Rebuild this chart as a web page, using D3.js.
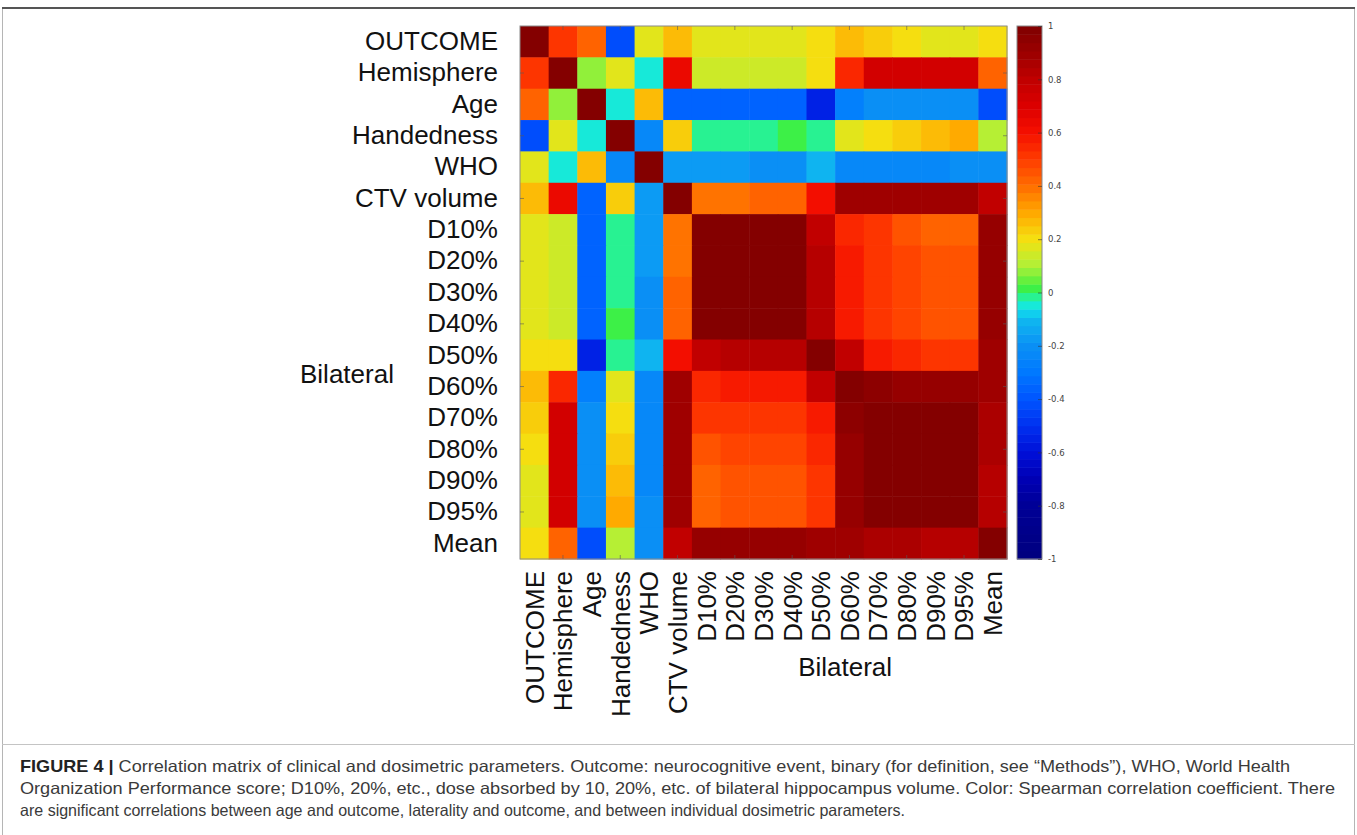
<!DOCTYPE html>
<html>
<head>
<meta charset="utf-8">
<script src="https://cdn.jsdelivr.net/npm/d3@7"></script>
<style>
  html, body { margin: 0; padding: 0; background: #fff; }
  svg { display: block; }
</style>
</head>
<body>
<svg id="chart" width="1357" height="835"></svg>
<script>
// ---------------- data ----------------
const rowLabels = ["OUTCOME","Hemisphere","Age","Handedness","WHO","CTV volume",
  "D10%","D20%","D30%","D40%","D50%","D60%","D70%","D80%","D90%","D95%","Mean"];
const colLabels = rowLabels;
const groupLabel = "Bilateral";

// Spearman correlation coefficients
const corr = [
  [ 1.00, 0.53, 0.41,-0.42, 0.16, 0.28, 0.16, 0.16, 0.16, 0.16, 0.19, 0.28, 0.24, 0.21, 0.18, 0.18, 0.20],
  [ 0.53, 1.00, 0.07, 0.16,-0.06, 0.65, 0.13, 0.13, 0.13, 0.14, 0.20, 0.56, 0.72, 0.74, 0.72, 0.72, 0.43],
  [ 0.41, 0.07, 1.00,-0.06, 0.28,-0.36,-0.36,-0.36,-0.36,-0.36,-0.55,-0.27,-0.21,-0.21,-0.21,-0.21,-0.42],
  [-0.42, 0.16,-0.06, 1.00,-0.25, 0.24,-0.03,-0.03,-0.03, 0.02,-0.03, 0.17, 0.21, 0.24, 0.27, 0.31, 0.10],
  [ 0.16,-0.06, 0.28,-0.25, 1.00,-0.17,-0.17,-0.17,-0.19,-0.21,-0.10,-0.22,-0.22,-0.22,-0.22,-0.19,-0.20],
  [ 0.28, 0.65,-0.36, 0.24,-0.17, 1.00, 0.38, 0.38, 0.41, 0.41, 0.60, 0.88, 0.88, 0.88, 0.88, 0.88, 0.80],
  [ 0.16, 0.13,-0.36,-0.03,-0.17, 0.38, 1.00, 0.99, 0.98, 0.98, 0.80, 0.56, 0.50, 0.46, 0.43, 0.43, 0.93],
  [ 0.16, 0.13,-0.36,-0.03,-0.17, 0.38, 0.99, 1.00, 0.99, 0.98, 0.83, 0.57, 0.52, 0.47, 0.46, 0.46, 0.93],
  [ 0.16, 0.13,-0.36,-0.03,-0.19, 0.41, 0.98, 0.99, 1.00, 0.99, 0.83, 0.57, 0.52, 0.48, 0.46, 0.46, 0.93],
  [ 0.16, 0.14,-0.36, 0.02,-0.21, 0.41, 0.98, 0.98, 0.99, 1.00, 0.83, 0.57, 0.52, 0.48, 0.46, 0.46, 0.93],
  [ 0.19, 0.20,-0.55,-0.03,-0.10, 0.60, 0.80, 0.83, 0.83, 0.83, 1.00, 0.80, 0.57, 0.54, 0.52, 0.52, 0.88],
  [ 0.28, 0.56,-0.27, 0.17,-0.22, 0.88, 0.56, 0.57, 0.57, 0.57, 0.80, 1.00, 0.96, 0.92, 0.91, 0.91, 0.90],
  [ 0.24, 0.72,-0.21, 0.21,-0.22, 0.88, 0.50, 0.52, 0.52, 0.52, 0.57, 0.96, 1.00, 0.99, 0.98, 0.97, 0.87],
  [ 0.21, 0.74,-0.21, 0.24,-0.22, 0.88, 0.46, 0.47, 0.48, 0.48, 0.54, 0.92, 0.99, 1.00, 0.99, 0.98, 0.86],
  [ 0.18, 0.72,-0.21, 0.27,-0.22, 0.88, 0.43, 0.46, 0.46, 0.46, 0.52, 0.91, 0.98, 0.99, 1.00, 0.99, 0.84],
  [ 0.18, 0.72,-0.21, 0.31,-0.19, 0.88, 0.43, 0.46, 0.46, 0.46, 0.52, 0.91, 0.97, 0.98, 0.99, 1.00, 0.84],
  [ 0.20, 0.43,-0.42, 0.10,-0.20, 0.80, 0.93, 0.93, 0.93, 0.93, 0.88, 0.90, 0.87, 0.86, 0.84, 0.84, 1.00]
];

const colorbarTicks = [1, 0.8, 0.6, 0.4, 0.2, 0, -0.2, -0.4, -0.6, -0.8, -1];
const colorbarTickLabels = ["1","0.8","0.6","0.4","0.2","0","-0.2","-0.4","-0.6","-0.8","-1"];

// colour map stops (jet-like, as in the colour bar)
const cmapValues = [-1, -0.8, -0.7, -0.6, -0.5, -0.4, -0.3, -0.2, -0.1, -0.06, -0.03, 0, 0.02, 0.1, 0.2, 0.3, 0.4, 0.5, 0.6, 0.7, 0.8, 0.9, 1];
const cmapColors = ["#00007e","#000096","#0000b4","#0010d8","#0030f0","#0055ff","#0078ff","#0a90f5","#10b8f0","#10e0ec","#20f5c0","#30ee60","#40f040","#b0f038","#f5e010","#ffa800","#ff6e00","#ff3c00","#f51000","#dc0000","#c00000","#9c0000","#800000"];

const captionBold = "FIGURE 4 |";
const captionLines = [
  " Correlation matrix of clinical and dosimetric parameters. Outcome: neurocognitive event, binary (for definition, see \u201cMethods\u201d), WHO, World Health",
  "Organization Performance score; D10%, 20%, etc., dose absorbed by 10, 20%, etc. of bilateral hippocampus volume. Color: Spearman correlation coefficient. There",
  "are significant correlations between age and outcome, laterality and outcome, and between individual dosimetric parameters."
];

// ---------------- drawing ----------------
(function () {
const svg = d3.select("#chart");
const FONT = "'Liberation Sans', Arial, Helvetica, sans-serif";

// frame
svg.append("rect").attr("x", 2.5).attr("y", 8.5).attr("width", 1352).attr("height", 840)
  .attr("fill", "none").attr("stroke", "#b5b5b5").attr("stroke-width", 1);
svg.append("line").attr("x1", 2).attr("x2", 1355).attr("y1", 8).attr("y2", 8)
  .attr("stroke", "#555").attr("stroke-width", 2);

const mLeft = 520, mRight = 1007, mTop = 26, mBottom = 559;
const n = rowLabels.length;
const idx = d3.range(n);

const x = d3.scaleBand().domain(idx).range([mLeft, mRight]).padding(0);
const y = d3.scaleBand().domain(idx).range([mTop, mBottom]).padding(0);

const cmap = d3.scaleLinear().domain(cmapValues).range(cmapColors).interpolate(d3.interpolateRgb).clamp(true);
const levels = 64;
const quant = v => {
  const q = Math.max(0, Math.min(levels - 1, Math.floor((v + 1) / 2 * levels)));
  return -1 + (q + 0.5) * 2 / levels;
};
const color = v => cmap(quant(v));

// cells
const cells = [];
corr.forEach((row, i) => row.forEach((v, j) => cells.push({i, j, v})));
svg.append("g").selectAll("rect").data(cells).join("rect")
  .attr("x", d => x(d.j))
  .attr("y", d => y(d.i))
  .attr("width", x.bandwidth() + 0.5)
  .attr("height", y.bandwidth() + 0.5)
  .attr("fill", d => color(d.v));

// border of matrix
svg.append("rect").attr("x", mLeft).attr("y", mTop).attr("width", mRight - mLeft).attr("height", mBottom - mTop)
  .attr("fill", "none").attr("stroke", "#8a8a8a").attr("stroke-width", 1);

// small inner ticks (every second category)
const tickIdx = idx.filter(i => i % 2 === 1);
const tg = svg.append("g").attr("stroke", "#5a5a5a").attr("stroke-opacity", 0.6).attr("stroke-width", 1);
tickIdx.forEach(i => {
  const cx = x(i) + x.bandwidth() / 2, cyy = y(i) + y.bandwidth() / 2;
  tg.append("line").attr("x1", cx).attr("x2", cx).attr("y1", mTop).attr("y2", mTop + 4);
  tg.append("line").attr("x1", cx).attr("x2", cx).attr("y1", mBottom).attr("y2", mBottom - 4);
  tg.append("line").attr("y1", cyy).attr("y2", cyy).attr("x1", mLeft).attr("x2", mLeft + 4);
  tg.append("line").attr("y1", cyy).attr("y2", cyy).attr("x1", mRight).attr("x2", mRight - 4);
});

// y axis labels
const yAxis = d3.axisLeft(y).tickSize(0).tickPadding(22).tickFormat(i => rowLabels[i]);
const gy = svg.append("g").attr("transform", `translate(${mLeft},0)`).call(yAxis);
gy.select(".domain").remove();
gy.selectAll("text").attr("font-family", FONT).attr("font-size", 26).attr("fill", "#111");

// x axis labels (rotated)
const xAxis = d3.axisBottom(x).tickSize(0).tickFormat(i => colLabels[i]);
const gx = svg.append("g").attr("transform", `translate(0,${mBottom})`).call(xAxis);
gx.select(".domain").remove();
gx.selectAll("text")
  .attr("transform", "rotate(-90)")
  .attr("x", -12).attr("y", 0).attr("dy", "0.36em")
  .style("text-anchor", "end")
  .attr("font-family", FONT).attr("font-size", 26).attr("fill", "#111");

// group labels
svg.append("text").attr("x", 300).attr("y", y(11) + 12)
  .attr("font-family", FONT).attr("font-size", 26).attr("fill", "#111").text(groupLabel);
svg.append("text").attr("x", (x(6) + x(15) + x.bandwidth()) / 2 + 10).attr("y", 676)
  .attr("text-anchor", "middle")
  .attr("font-family", FONT).attr("font-size", 26).attr("fill", "#111").text(groupLabel);

// colour bar
const cbLeft = 1017, cbRight = 1042;
const cyScale = d3.scaleLinear().domain([-1, 1]).range([mBottom, mTop]);
const bands = d3.range(levels).map(k => -1 + k * 2 / levels);
svg.append("g").selectAll("rect").data(bands).join("rect")
  .attr("x", cbLeft).attr("width", cbRight - cbLeft)
  .attr("y", d => cyScale(d + 2 / levels))
  .attr("height", d => cyScale(d) - cyScale(d + 2 / levels) + 0.5)
  .attr("fill", d => cmap(d + 1 / levels));
svg.append("rect").attr("x", cbLeft).attr("y", mTop).attr("width", cbRight - cbLeft).attr("height", mBottom - mTop)
  .attr("fill", "none").attr("stroke", "#8a8a8a").attr("stroke-width", 1);
const cAxis = d3.axisRight(cyScale).tickValues(colorbarTicks).tickSizeInner(-4).tickSizeOuter(0).tickPadding(6)
  .tickFormat((d, k) => colorbarTickLabels[k]);
const gc = svg.append("g").attr("transform", `translate(${cbRight},0)`).call(cAxis);
gc.select(".domain").remove();
gc.selectAll("line").attr("stroke", "#333").attr("stroke-opacity", 0.6);
gc.selectAll("text").attr("font-family", "'DejaVu Sans', sans-serif").attr("font-size", 8.5).attr("fill", "#444");

// divider
svg.append("line").attr("x1", 2).attr("x2", 1355).attr("y1", 744.5).attr("y2", 744.5)
  .attr("stroke", "#c4c4c4").attr("stroke-width", 1);

// caption (condensed glyphs, natural word spacing)
const capX = 20, capY0 = 772, capDY = 22;
const capWidths = [1270, 1315, 885];
const capG = svg.append("g").attr("font-family", FONT).attr("fill", "#3a3a3a");
captionLines.forEach((t, k) => {
  const te = capG.append("text").attr("x", capX).attr("y", capY0 + k * capDY).attr("font-size", 16.5)
    .attr("textLength", capWidths[k]).attr("lengthAdjust", "spacingAndGlyphs");
  if (k === 0) te.append("tspan").attr("font-weight", "bold").attr("fill", "#222").text(captionBold);
  te.append("tspan").text(t);
});
})();
</script>
</body>
</html>
